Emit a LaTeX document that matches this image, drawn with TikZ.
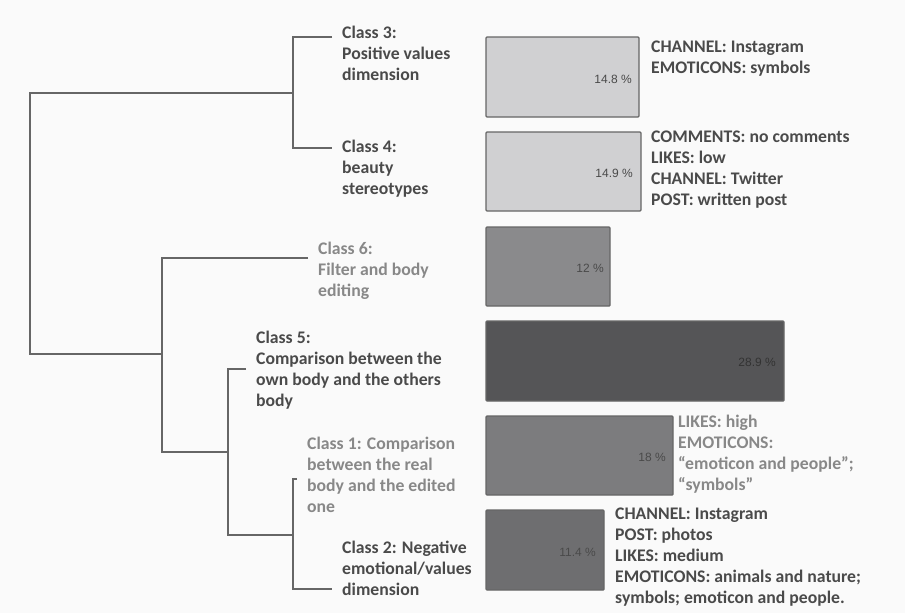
\documentclass[tikz,border=0pt]{standalone}
\usepackage{fontspec}
\setmainfont{Carlito}
\newfontfamily\pctfont{Liberation Sans}
\definecolor{bg}{HTML}{FAFAFA}
\definecolor{dtext}{HTML}{4A4A4A}
\definecolor{ltext}{HTML}{888888}
\definecolor{dline}{HTML}{666666}
\definecolor{fA}{HTML}{D0D0D2}
\definecolor{fB}{HTML}{8A8A8C}
\definecolor{fC}{HTML}{555557}
\definecolor{fD}{HTML}{7C7C7E}
\definecolor{fE}{HTML}{6E6E70}
\begin{document}
\begin{tikzpicture}[x=1pt,y=-1pt,
  tree/.style={draw=dline,line width=1.6pt},
  lab/.style={anchor=north west,align=left,inner sep=0pt,font=\fontsize{17.7}{21}\selectfont\bfseries},
  dark/.style={text=dtext},
  light/.style={text=ltext},
  barbox/.style={draw=dline,line width=1.4pt,rounded corners=1pt},
  pct/.style={anchor=east,inner sep=0pt,font=\pctfont\fontsize{12}{14}\selectfont}
]
\fill[bg] (0,0) rectangle (905,613);
\useasboundingbox (0,0) rectangle (905,613);

% dendrogram coordinates
\coordinate (r1) at (30,93);
\coordinate (r2) at (30,354);
\coordinate (a1) at (293,93);
\coordinate (a3) at (293,37);
\coordinate (a4) at (293,148);
\coordinate (e3) at (332,37);
\coordinate (e4) at (332,148);
\coordinate (b1) at (162,354);
\coordinate (b6) at (162,258);
\coordinate (b2) at (162,452);
\coordinate (e6) at (308,258);
\coordinate (c1) at (228,452);
\coordinate (c5) at (228,369);
\coordinate (c2) at (228,535);
\coordinate (e5) at (246,369);
\coordinate (d1) at (293,535);
\coordinate (d3) at (293,479);
\coordinate (d2) at (293,589);
\coordinate (ec1) at (297,479);
\coordinate (ec2) at (332,589);

\draw[tree] (a1) -- (r1) -- (r2) -- (b1);
\draw[tree] (e3) -- (a3) -- (a4) -- (e4);
\draw[tree] (e6) -- (b6) -- (b2) -- (c1);
\draw[tree] (e5) -- (c5) -- (c2) -- (d1);
\draw[tree] (ec1) -- (d3) -- (d2) -- (ec2);

% class labels
\node[lab,dark] (l3) at (342,26) {Class 3:\\Positive values\\dimension};
\node[lab,dark] (l4) at (342,140) {Class 4:\\beauty\\stereotypes};
\node[lab,light] (l6) at (318,242) {Class 6:\\Filter and body\\editing};
\node[lab,dark] (l5) at (256,331) {Class 5:\\Comparison between the\\own body and the others\\body};
\node[lab,light] (l1) at (307,437) {Class 1: Comparison\\between the real\\body and the edited\\one};
\node[lab,dark] (l2) at (342,541) {Class 2: Negative\\emotional/values\\dimension};

% bars
\draw[barbox,fill=fA] (486,37) rectangle (639,117);
\node[pct,text=dtext] (p3) at (632,79) {14.8 \%};
\draw[barbox,fill=fA] (486,132) rectangle (641,211);
\node[pct,text=dtext] (p4) at (633,173) {14.9 \%};
\draw[barbox,fill=fB] (486,227) rectangle (610,306);
\node[pct,text=dtext] (p6) at (604,268) {12 \%};
\draw[barbox,fill=fC] (486,321) rectangle (784,401);
\node[pct,text=black!80] (p5) at (776,362) {28.9 \%};
\draw[barbox,fill=fD] (486,416) rectangle (673,495);
\node[pct,text=dtext] (p1) at (666,457) {18 \%};
\draw[barbox,fill=fE] (486,510) rectangle (604,590);
\node[pct,text=dtext] (p2) at (596,552) {11.4 \%};

% annotations
\node[lab,dark] (t3) at (651,41) {CHANNEL: Instagram\\EMOTICONS: symbols};
\node[lab,dark] (t4) at (651,131) {COMMENTS: no comments\\LIKES: low\\CHANNEL: Twitter\\POST: written post};
\node[lab,light] (t1) at (678,415) {LIKES: high\\EMOTICONS:\\“emoticon and people”;\\“symbols”};
\node[lab,dark] (t2) at (615,508) {CHANNEL: Instagram\\POST: photos\\LIKES: medium\\EMOTICONS: animals and nature;\\symbols; emoticon and people.};
\end{tikzpicture}
\end{document}
